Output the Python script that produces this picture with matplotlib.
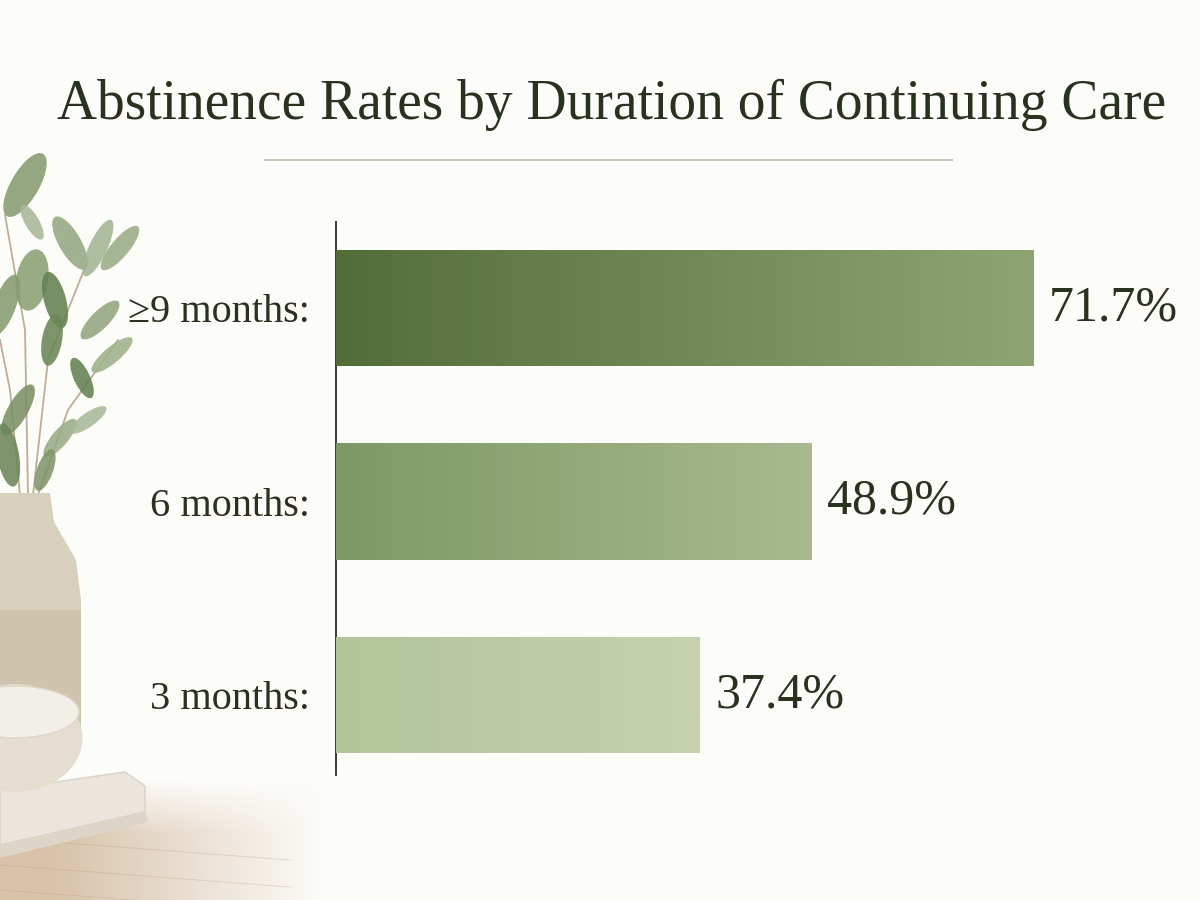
import numpy as np
import matplotlib
matplotlib.use("Agg")
import matplotlib.pyplot as plt
from matplotlib.patches import Ellipse, Polygon
from matplotlib.colors import to_rgb

# data
categories = ["3 months:", "6 months:", "\u22659 months:"]
rates = [37.4, 48.9, 71.7]
left_colors = ["#b3c49a", "#7d9866", "#536d3a"]
right_colors = ["#c6d2ae", "#a8ba8f", "#8ea573"]

title = "Abstinence Rates by Duration of Continuing Care"
text_col = "#28321f"
bg = "#fcfcf9"

plt.rcParams["font.family"] = ["Liberation Serif", "DejaVu Serif"]

fig = plt.figure(figsize=(12, 9), dpi=100)
fig.patch.set_facecolor(bg)

# decorative still life at left (pixel coords)
deco = fig.add_axes([0, 0, 1, 1], zorder=0)
deco.set_xlim(0, 1200)
deco.set_ylim(900, 0)
deco.axis("off")

# table top, fading to the right
tw, th = 340, 120
tab = np.zeros((th, tw, 4))
tab[..., :3] = to_rgb("#cfb496")
xx = np.linspace(0, 1, tw)[None, :]
yy = np.linspace(0, 1, th)[:, None]
tab[..., 3] = np.clip(1.2 - 1.25 * xx, 0, 1) * np.clip(yy * 2.2, 0, 1) * 0.8
deco.imshow(tab, extent=(0, tw, 900, 900 - th), zorder=1, aspect="auto")
for y0 in [838, 865, 890]:
    deco.plot([0, 290], [y0, y0 + 22], color="#b89c7e", lw=0.6, alpha=0.35, zorder=2)

# book
deco.add_patch(Polygon([(0, 790), (125, 772), (145, 786), (145, 812), (0, 845)],
                       closed=True, fc="#ebe6dd", ec="#d9d1c4", lw=1, zorder=3))
deco.add_patch(Polygon([(0, 845), (145, 812), (148, 822), (0, 858)],
                       closed=True, fc="#ddd5c7", ec="none", zorder=3))

# vase
deco.add_patch(Polygon([(0, 493), (50, 493), (54, 522), (76, 560), (81, 600),
                        (81, 745), (0, 745)],
                       closed=True, fc="#d9cfbd", ec="none", zorder=3))
deco.add_patch(Polygon([(0, 610), (81, 610), (81, 745), (0, 745)],
                       closed=True, fc="#c9bca3", ec="none", alpha=0.55, zorder=3))

# bowl
deco.add_patch(Ellipse((15, 738), 135, 108, fc="#e4ddd0", ec="none", zorder=4))
deco.add_patch(Ellipse((15, 712), 128, 52, fc="#f2efe9", ec="#ddd5c8", lw=1, zorder=4))

# plant stems and leaves
stems = [[(28, 495), (25, 330), (5, 215)],
         [(33, 495), (48, 360), (88, 260)],
         [(38, 495), (68, 410), (118, 340)],
         [(20, 495), (10, 390), (0, 340)]]
for s in stems:
    xs, ys = zip(*s)
    deco.plot(xs, ys, color="#bcae98", lw=1.3, zorder=2)
leaves = [(25, 185, 28, 72, 30, "#879c70"), (32, 280, 32, 62, 10, "#8aa072"),
          (55, 300, 22, 58, -15, "#63804f"), (70, 243, 22, 60, -30, "#94a880"),
          (98, 248, 18, 62, 25, "#a3b393"), (120, 248, 18, 56, 40, "#9aad86"),
          (52, 340, 20, 52, 10, "#6c8656"), (100, 320, 18, 52, 45, "#93a67f"),
          (112, 355, 16, 52, 50, "#9fb18b"), (82, 378, 16, 44, -25, "#64804f"),
          (5, 305, 22, 64, 20, "#879c70"), (18, 410, 20, 58, 30, "#7a9064"),
          (60, 438, 16, 48, 40, "#9aac86"), (8, 455, 22, 64, -10, "#6e8658"),
          (45, 470, 16, 44, 20, "#80966a"), (88, 420, 14, 44, 55, "#a8b898"),
          (32, 222, 14, 40, -30, "#a7b79a")]
for lx, ly, lw_, lh, ang, c in leaves:
    deco.add_patch(Ellipse((lx, ly), lw_, lh, angle=ang, fc=c, ec="none",
                           alpha=0.88, zorder=2))

# title and rule
fig.text(0.51, 1 - 105 / 900, title, ha="center", va="center",
         fontsize=40, color=text_col)
fig.add_artist(plt.Line2D([265 / 1200, 952 / 1200], [1 - 160 / 900] * 2,
                          color="#c3c6b4", lw=1.5))

# bar chart
ax = fig.add_axes([336 / 1200, 125 / 900, 864 / 1200, 553 / 900], zorder=5)
ax.patch.set_alpha(0)
ypos = np.arange(len(categories))
bars = ax.barh(ypos, rates, height=0.6, color=left_colors, zorder=2)
ax.set_xlim(0, 864 / 9.73)
ax.set_ylim(-0.413, 2.444)

# horizontal watercolor-like gradient in each bar
for b, cl, cr in zip(bars, left_colors, right_colors):
    x0, y0 = b.get_x(), b.get_y()
    w, h = b.get_width(), b.get_height()
    t = np.linspace(0, 1, 256)
    grad = (1 - t)[:, None] * np.array(to_rgb(cl)) + t[:, None] * np.array(to_rgb(cr))
    im = ax.imshow(grad[None, :, :], extent=(x0, x0 + w, y0, y0 + h),
                   aspect="auto", zorder=3)
    im.set_clip_path(b)

for b, v in zip(bars, rates):
    ax.annotate(f"{v:.1f}%", (b.get_width(), b.get_y() + b.get_height() / 2),
                xytext=(11, 0), textcoords="offset points", ha="left",
                va="center", fontsize=36, color=text_col)

ax.set_yticks(ypos)
ax.set_yticklabels(categories, fontsize=29, color=text_col)
ax.tick_params(axis="y", length=0, pad=19)
ax.set_xticks([])
for side in ["top", "right", "bottom"]:
    ax.spines[side].set_visible(False)
ax.spines["left"].set_color("#3a3a36")
ax.spines["left"].set_linewidth(1.4)

fig.savefig("out.png", dpi=100, facecolor=bg)
